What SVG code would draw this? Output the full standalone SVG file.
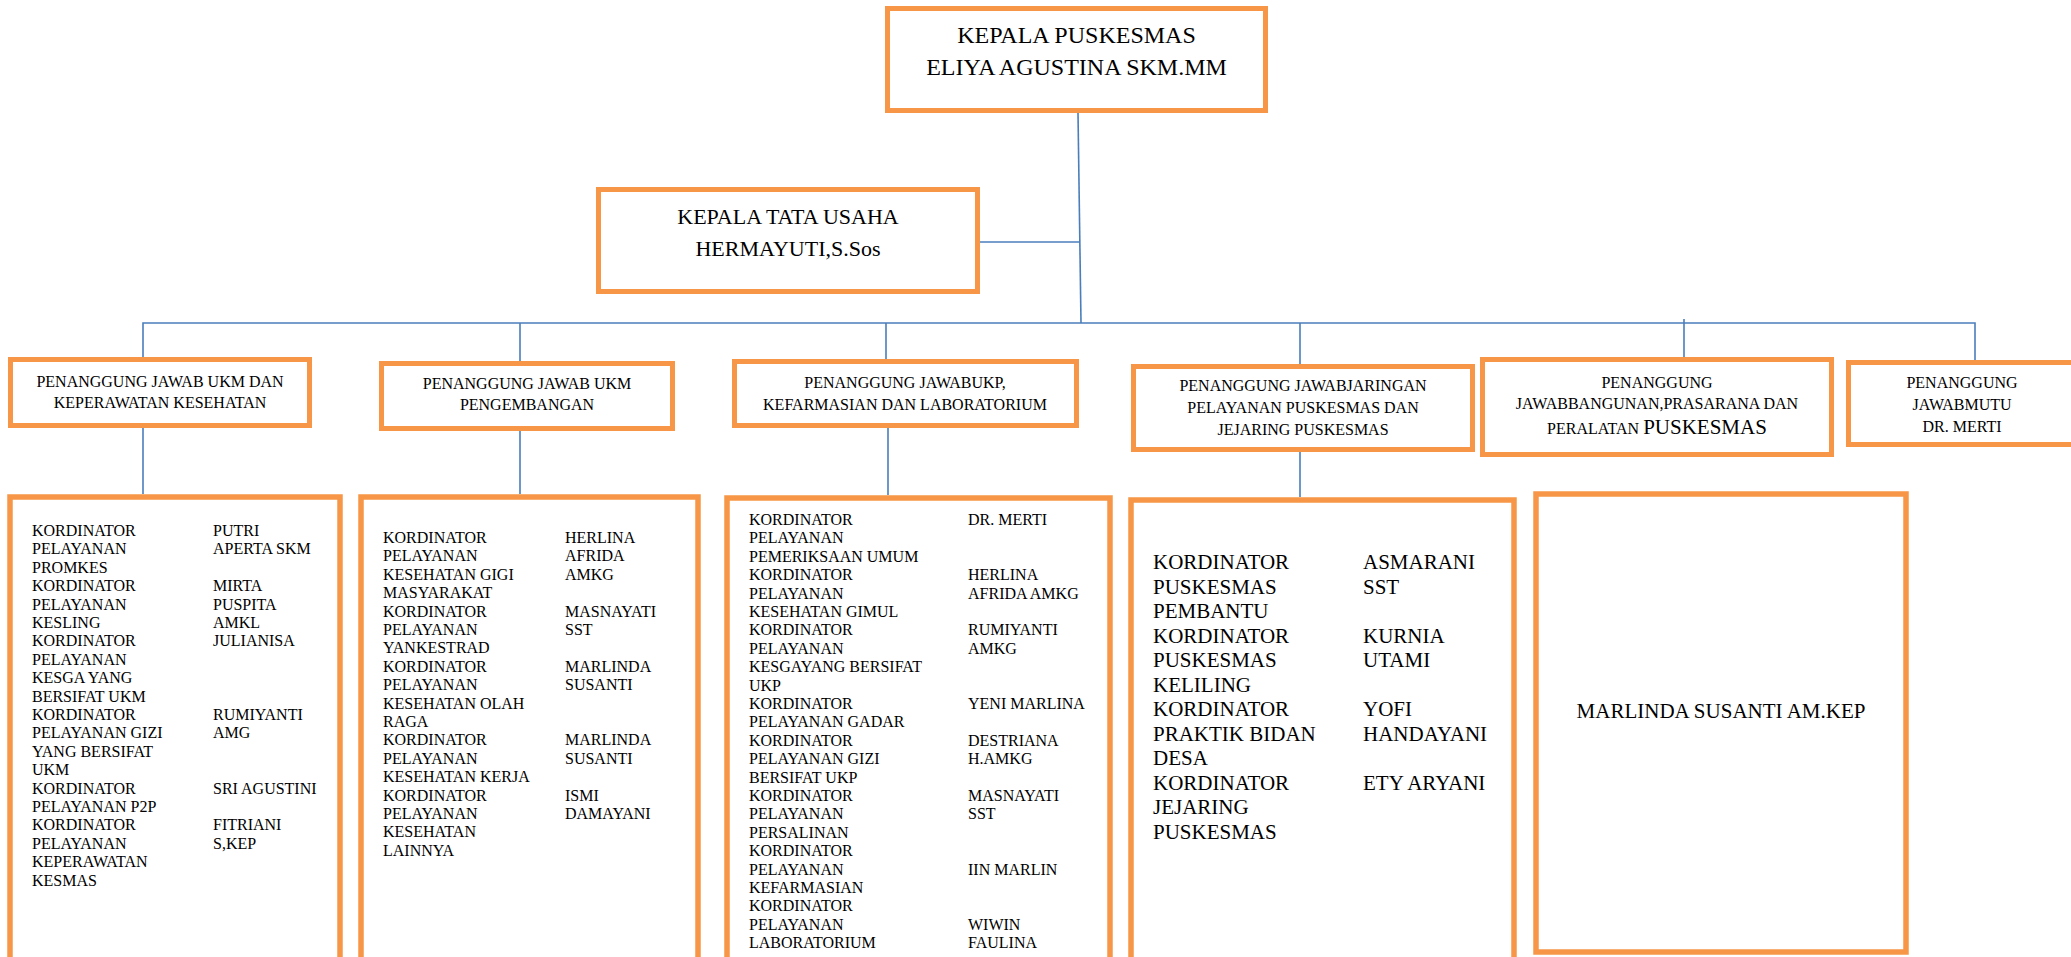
<svg xmlns="http://www.w3.org/2000/svg" width="2071" height="957" viewBox="0 0 2071 957">
<style>
.box{fill:#fff;stroke:#F79646;stroke-width:5}
.big{fill:#fff;stroke:#F79646;stroke-width:5.5}
.ln{fill:none;stroke:#4A7EBB;stroke-width:1.6}
text{font-family:"Liberation Serif","Times New Roman",serif;fill:#000}
.t24{font-size:24px;text-anchor:middle}
.t22{font-size:22px;text-anchor:middle}
.t16c{font-size:16px;text-anchor:middle}
.t16{font-size:16px}
.t21{font-size:21px}
</style>
<rect width="2071" height="957" fill="#fff"/>
<g id="connectors">
<path class="ln" d="M1078,113 L1081,323"/>
<path class="ln" d="M980,242 H1080"/>
<path class="ln" d="M143,357 V323 H1975 V360"/>
<path class="ln" d="M520,323 V361"/>
<path class="ln" d="M886,323 V359"/>
<path class="ln" d="M1300,323 V364"/>
<path class="ln" d="M1684,319 V357"/>
<path class="ln" d="M143,428 V494"/>
<path class="ln" d="M520,431 V494"/>
<path class="ln" d="M888,428 V495"/>
<path class="ln" d="M1300,452 V497"/>
</g>
<g id="kepala">
<rect class="box" x="887.5" y="8.5" width="378" height="102"/>
<text class="t24" x="1076.5" y="43">KEPALA PUSKESMAS</text>
<text class="t24" x="1076.5" y="75">ELIYA AGUSTINA SKM.MM</text>
</g>
<g id="tatausaha">
<rect class="box" x="598.5" y="189.5" width="379" height="102"/>
<text class="t22" x="788" y="224">KEPALA TATA USAHA</text>
<text class="t22" x="788" y="256">HERMAYUTI,S.Sos</text>
</g>
<g id="pj-ukm">
<rect class="box" x="10.5" y="359.5" width="299" height="66"/>
<text class="t16c" x="160" y="387">PENANGGUNG JAWAB UKM DAN</text>
<text class="t16c" x="160" y="408">KEPERAWATAN KESEHATAN</text>
</g>
<g id="pj-ukm-pengembangan">
<rect class="box" x="381.5" y="363.5" width="291" height="65"/>
<text class="t16c" x="527" y="389">PENANGGUNG JAWAB UKM</text>
<text class="t16c" x="527" y="410">PENGEMBANGAN</text>
</g>
<g id="pj-ukp">
<rect class="box" x="734.5" y="361.5" width="342" height="64"/>
<text class="t16c" x="905" y="388">PENANGGUNG JAWABUKP,</text>
<text class="t16c" x="905" y="410">KEFARMASIAN DAN LABORATORIUM</text>
</g>
<g id="pj-jaringan">
<rect class="box" x="1133.5" y="366.5" width="339" height="83"/>
<text class="t16c" x="1303" y="391">PENANGGUNG JAWABJARINGAN</text>
<text class="t16c" x="1303" y="413">PELAYANAN PUSKESMAS DAN</text>
<text class="t16c" x="1303" y="435">JEJARING PUSKESMAS</text>
</g>
<g id="pj-bangunan">
<rect class="box" x="1482.5" y="359.5" width="349" height="95"/>
<text class="t16c" x="1657" y="388">PENANGGUNG</text>
<text class="t16c" x="1657" y="409">JAWABBANGUNAN,PRASARANA DAN</text>
<text class="t16c" x="1657" y="434">PERALATAN <tspan font-size="21px">PUSKESMAS</tspan></text>
</g>
<g id="pj-mutu">
<rect class="box" x="1848.5" y="362.5" width="227" height="82"/>
<text class="t16c" x="1962" y="388">PENANGGUNG</text>
<text class="t16c" x="1962" y="410">JAWABMUTU</text>
<text class="t16c" x="1962" y="432">DR. MERTI</text>
</g>
<g id="list-ukm">
<rect class="big" x="10" y="497" width="330" height="480"/>
<text class="t16" x="32" y="536"><tspan x="32">KORDINATOR</tspan><tspan x="32" dy="18.4">PELAYANAN</tspan><tspan x="32" dy="18.4">PROMKES</tspan><tspan x="32" dy="18.4">KORDINATOR</tspan><tspan x="32" dy="18.4">PELAYANAN</tspan><tspan x="32" dy="18.4">KESLING</tspan><tspan x="32" dy="18.4">KORDINATOR</tspan><tspan x="32" dy="18.4">PELAYANAN</tspan><tspan x="32" dy="18.4">KESGA YANG</tspan><tspan x="32" dy="18.4">BERSIFAT UKM</tspan><tspan x="32" dy="18.4">KORDINATOR</tspan><tspan x="32" dy="18.4">PELAYANAN GIZI</tspan><tspan x="32" dy="18.4">YANG BERSIFAT</tspan><tspan x="32" dy="18.4">UKM</tspan><tspan x="32" dy="18.4">KORDINATOR</tspan><tspan x="32" dy="18.4">PELAYANAN P2P</tspan><tspan x="32" dy="18.4">KORDINATOR</tspan><tspan x="32" dy="18.4">PELAYANAN</tspan><tspan x="32" dy="18.4">KEPERAWATAN</tspan><tspan x="32" dy="18.4">KESMAS</tspan></text>
<text class="t16" x="213" y="536"><tspan x="213">PUTRI</tspan><tspan x="213" dy="18.4">APERTA SKM</tspan><tspan x="213" dy="36.8">MIRTA</tspan><tspan x="213" dy="18.4">PUSPITA</tspan><tspan x="213" dy="18.4">AMKL</tspan><tspan x="213" dy="18.4">JULIANISA</tspan><tspan x="213" dy="73.6">RUMIYANTI</tspan><tspan x="213" dy="18.4">AMG</tspan><tspan x="213" dy="55.2">SRI AGUSTINI</tspan><tspan x="213" dy="36.8">FITRIANI</tspan><tspan x="213" dy="18.4">S,KEP</tspan></text>
</g>
<g id="list-pengembangan">
<rect class="big" x="361" y="497" width="337" height="480"/>
<text class="t16" x="383" y="543"><tspan x="383">KORDINATOR</tspan><tspan x="383" dy="18.4">PELAYANAN</tspan><tspan x="383" dy="18.4">KESEHATAN GIGI</tspan><tspan x="383" dy="18.4">MASYARAKAT</tspan><tspan x="383" dy="18.4">KORDINATOR</tspan><tspan x="383" dy="18.4">PELAYANAN</tspan><tspan x="383" dy="18.4">YANKESTRAD</tspan><tspan x="383" dy="18.4">KORDINATOR</tspan><tspan x="383" dy="18.4">PELAYANAN</tspan><tspan x="383" dy="18.4">KESEHATAN OLAH</tspan><tspan x="383" dy="18.4">RAGA</tspan><tspan x="383" dy="18.4">KORDINATOR</tspan><tspan x="383" dy="18.4">PELAYANAN</tspan><tspan x="383" dy="18.4">KESEHATAN KERJA</tspan><tspan x="383" dy="18.4">KORDINATOR</tspan><tspan x="383" dy="18.4">PELAYANAN</tspan><tspan x="383" dy="18.4">KESEHATAN</tspan><tspan x="383" dy="18.4">LAINNYA</tspan></text>
<text class="t16" x="565" y="543"><tspan x="565">HERLINA</tspan><tspan x="565" dy="18.4">AFRIDA</tspan><tspan x="565" dy="18.4">AMKG</tspan><tspan x="565" dy="36.8">MASNAYATI</tspan><tspan x="565" dy="18.4">SST</tspan><tspan x="565" dy="36.8">MARLINDA</tspan><tspan x="565" dy="18.4">SUSANTI</tspan><tspan x="565" dy="55.2">MARLINDA</tspan><tspan x="565" dy="18.4">SUSANTI</tspan><tspan x="565" dy="36.8">ISMI</tspan><tspan x="565" dy="18.4">DAMAYANI</tspan></text>
</g>
<g id="list-ukp">
<rect class="big" x="727" y="498" width="383" height="480"/>
<text class="t16" x="749" y="525"><tspan x="749">KORDINATOR</tspan><tspan x="749" dy="18.4">PELAYANAN</tspan><tspan x="749" dy="18.4">PEMERIKSAAN UMUM</tspan><tspan x="749" dy="18.4">KORDINATOR</tspan><tspan x="749" dy="18.4">PELAYANAN</tspan><tspan x="749" dy="18.4">KESEHATAN GIMUL</tspan><tspan x="749" dy="18.4">KORDINATOR</tspan><tspan x="749" dy="18.4">PELAYANAN</tspan><tspan x="749" dy="18.4">KESGAYANG BERSIFAT</tspan><tspan x="749" dy="18.4">UKP</tspan><tspan x="749" dy="18.4">KORDINATOR</tspan><tspan x="749" dy="18.4">PELAYANAN GADAR</tspan><tspan x="749" dy="18.4">KORDINATOR</tspan><tspan x="749" dy="18.4">PELAYANAN GIZI</tspan><tspan x="749" dy="18.4">BERSIFAT UKP</tspan><tspan x="749" dy="18.4">KORDINATOR</tspan><tspan x="749" dy="18.4">PELAYANAN</tspan><tspan x="749" dy="18.4">PERSALINAN</tspan><tspan x="749" dy="18.4">KORDINATOR</tspan><tspan x="749" dy="18.4">PELAYANAN</tspan><tspan x="749" dy="18.4">KEFARMASIAN</tspan><tspan x="749" dy="18.4">KORDINATOR</tspan><tspan x="749" dy="18.4">PELAYANAN</tspan><tspan x="749" dy="18.4">LABORATORIUM</tspan></text>
<text class="t16" x="968" y="525"><tspan x="968">DR. MERTI</tspan><tspan x="968" dy="55.2">HERLINA</tspan><tspan x="968" dy="18.4">AFRIDA AMKG</tspan><tspan x="968" dy="36.8">RUMIYANTI</tspan><tspan x="968" dy="18.4">AMKG</tspan><tspan x="968" dy="55.2">YENI MARLINA</tspan><tspan x="968" dy="36.8">DESTRIANA</tspan><tspan x="968" dy="18.4">H.AMKG</tspan><tspan x="968" dy="36.8">MASNAYATI</tspan><tspan x="968" dy="18.4">SST</tspan><tspan x="968" dy="55.2">IIN MARLIN</tspan><tspan x="968" dy="55.2">WIWIN</tspan><tspan x="968" dy="18.4">FAULINA</tspan></text>
</g>
<g id="list-jaringan">
<rect class="big" x="1131" y="500" width="383" height="480"/>
<text class="t21" x="1153" y="569"><tspan x="1153">KORDINATOR</tspan><tspan x="1153" dy="24.5">PUSKESMAS</tspan><tspan x="1153" dy="24.5">PEMBANTU</tspan><tspan x="1153" dy="24.5">KORDINATOR</tspan><tspan x="1153" dy="24.5">PUSKESMAS</tspan><tspan x="1153" dy="24.5">KELILING</tspan><tspan x="1153" dy="24.5">KORDINATOR</tspan><tspan x="1153" dy="24.5">PRAKTIK BIDAN</tspan><tspan x="1153" dy="24.5">DESA</tspan><tspan x="1153" dy="24.5">KORDINATOR</tspan><tspan x="1153" dy="24.5">JEJARING</tspan><tspan x="1153" dy="24.5">PUSKESMAS</tspan></text>
<text class="t21" x="1363" y="569"><tspan x="1363">ASMARANI</tspan><tspan x="1363" dy="24.5">SST</tspan><tspan x="1363" dy="49">KURNIA</tspan><tspan x="1363" dy="24.5">UTAMI</tspan><tspan x="1363" dy="49">YOFI</tspan><tspan x="1363" dy="24.5">HANDAYANI</tspan><tspan x="1363" dy="49">ETY ARYANI</tspan></text>
</g>
<g id="list-bangunan">
<rect class="big" x="1536" y="494" width="370" height="458"/>
<text class="t21" x="1721" y="718" text-anchor="middle">MARLINDA SUSANTI AM.KEP</text>
</g>
</svg>
